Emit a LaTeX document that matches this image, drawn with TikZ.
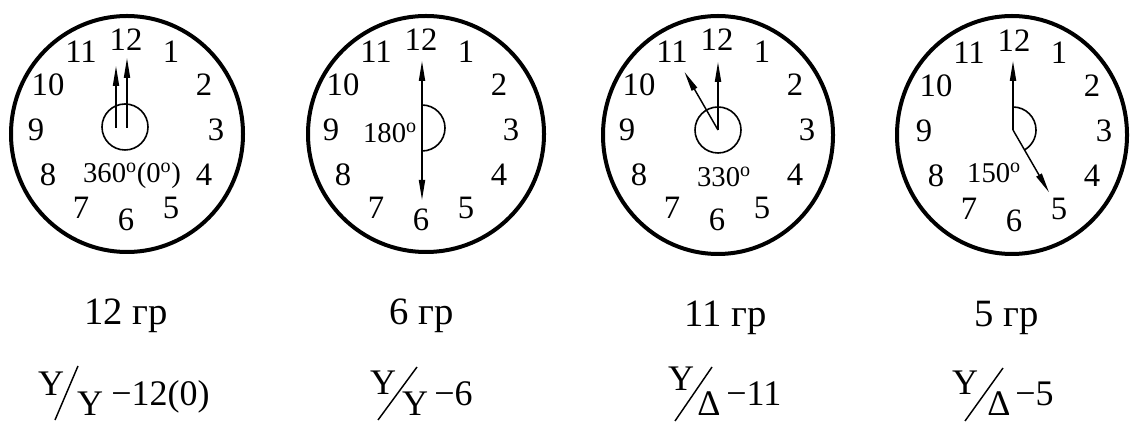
\documentclass[tikz,border=0pt]{standalone}
\usepackage{fontspec}
\setmainfont{Liberation Serif}
\usetikzlibrary{arrows.meta}
\begin{document}
\begin{tikzpicture}[x=0.75pt,y=-0.75pt,
  dial/.style={line width=3pt},
  hub/.style={line width=1.2pt},
  hand/.style={line width=1.1pt,-{Triangle[length=15pt,width=4.6pt]}},
  num/.style={font=\fontsize{24.5}{26}\selectfont, inner sep=0pt},
  deg/.style={font=\fontsize{21.5}{24}\selectfont, inner sep=0pt},
  grp/.style={font=\fontsize{29}{31}\selectfont, inner sep=0pt, anchor=base},
  frm/.style={font=\fontsize{27}{29}\selectfont, inner sep=0pt, anchor=base},
  slash/.style={line width=1.1pt}
]
\useasboundingbox (0,0) rectangle (1130,423);

% ---------- dials ----------
\draw[dial] (127,134) ellipse[x radius=116, y radius=118];
\draw[dial] (426,134) ellipse[x radius=118, y radius=118];
\draw[dial] (718,135) ellipse[x radius=115, y radius=119];
\draw[dial] (1012,135) ellipse[x radius=115, y radius=119];

% ring centres for the hour numbers
\coordinate (r1) at (126,130);
\coordinate (r2) at (421,130);
\coordinate (r3) at (717,130);
\coordinate (r4) at (1014,131);
\foreach \c in {1,2,3,4}{
  \foreach \k in {1,...,12}{
    \node[num] (n\c-\k) at ([shift={({30*\k-90}:90)}]r\c) {\k};
  }
}

% ---------- clock 1 : 12 ----------
\coordinate (h1) at (125,127);
\draw[hub] (h1) circle[radius=23];
\coordinate (a1s) at (116,128);
\coordinate (a1t) at (116,66);
\coordinate (b1s) at (127,128);
\coordinate (b1t) at (127,58);
\draw[hand] (a1s) -- (a1t);
\draw[hand] (b1s) -- (b1t);
\node[deg] (d1) at (132,176) {360\textsuperscript{o}(0\textsuperscript{o})};

% ---------- clock 2 : 6 ----------
\coordinate (h2) at (422,128);
\coordinate (a2t) at (422,61);
\coordinate (b2t) at (422,200);
\draw[hub] (h2) ++(-90:23) arc[start angle=-90, end angle=90, radius=23];
\draw[hand] (h2) -- (a2t);
\draw[hand] (h2) -- (b2t);
\node[deg] (d2) at (390,133) {180\textsuperscript{o}};

% ---------- clock 3 : 11 ----------
\coordinate (h3) at (718,130);
\draw[hub] (h3) circle[radius=23];
\coordinate (a3t) at (718,62);
\coordinate (b3t) at ([shift={(240:67)}]h3);
\draw[hand] (h3) -- (a3t);
\draw[hand] (h3) -- (b3t);
\node[deg] (d3) at (724,177) {330\textsuperscript{o}};

% ---------- clock 4 : 5 ----------
\coordinate (h4) at (1013,130);
\coordinate (a4t) at (1013,61);
\coordinate (b4t) at ([shift={(60:72)}]h4);
\draw[hub] (h4) ++(-90:23) arc[start angle=-90, end angle=60, radius=23];
\draw[hand] (h4) -- (a4t);
\draw[hand] (h4) -- (b4t);
\node[deg] (d4) at (994,173) {150\textsuperscript{o}};

% ---------- group labels ----------
\node[grp] (g1) at (126,325) {12 гр};
\node[grp] (g2) at (422,325) {6 гр};
\node[grp] (g3) at (726,327) {11 гр};
\node[grp] (g4) at (1007,327) {5 гр};

% ---------- connection formulas ----------
% 1
\node[frm] (f1a) at (51,395) {Y};
\coordinate (s1b) at (55,420);
\coordinate (s1t) at (78,366);
\draw[slash] (s1b) -- (s1t);
\node[frm] (f1b) at (90,415) {Y};
\node[frm, anchor=base west] (f1c) at (111,405) {−12(0)};
% 2
\node[frm] (f2a) at (383,394) {Y};
\coordinate (s2b) at (378,420);
\coordinate (s2t) at (417,367);
\draw[slash] (s2b) -- (s2t);
\node[frm] (f2b) at (415,415) {Y};
\node[frm, anchor=base west] (f2c) at (434,405) {−6};
% 3
\node[frm] (f3a) at (681,391) {Y};
\coordinate (s3b) at (675,421);
\coordinate (s3t) at (712,367);
\draw[slash] (s3b) -- (s3t);
\node[frm] (f3b) at (709,415) {Δ};
\node[frm, anchor=base west] (f3c) at (726,405) {−11};
% 4
\node[frm] (f4a) at (965,394) {Y};
\coordinate (s4b) at (965,421);
\coordinate (s4t) at (1003,368);
\draw[slash] (s4b) -- (s4t);
\node[frm] (f4b) at (999,415) {Δ};
\node[frm, anchor=base west] (f4c) at (1015,405) {−5};
\end{tikzpicture}
\end{document}
